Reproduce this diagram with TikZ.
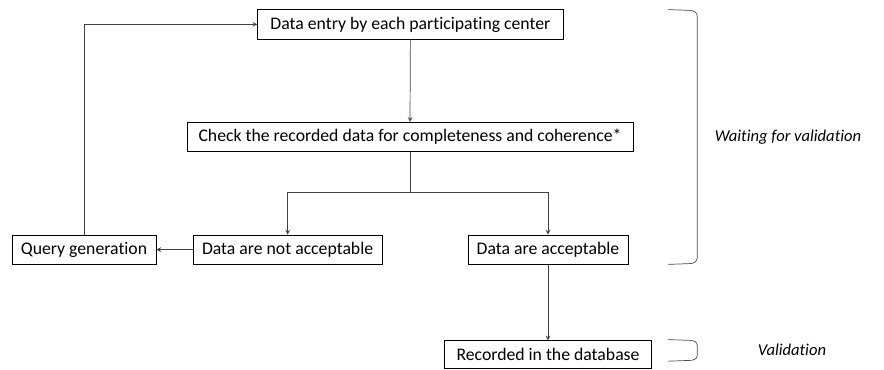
\documentclass[tikz,border=0pt]{standalone}
\usepackage{fontspec}
\setmainfont{Carlito}[Ligatures=NoCommon]
\begin{document}
\begin{tikzpicture}[x=1cm,y=1cm,>=stealth,
  box/.style={draw,line width=0.6pt,inner sep=0pt,minimum height=0.73cm,font=\fontsize{12.6}{14}\selectfont},
  link/.style={draw=black!75,line width=0.5pt}]
\useasboundingbox (0,0) rectangle (22.1,9.25);

\node[box,minimum width=7.63cm] (entry) at (10.26,8.64) {Data entry by each participating center};
\node[box,minimum width=11.15cm] (check) at (10.25,5.83) {Check the recorded data for completeness and coherence*};
\node[box,minimum width=3.6cm] (query) at (2.1,3.01) {Query generation};
\node[box,minimum width=4.73cm] (notacc) at (7.19,3.01) {Data are not acceptable};
\node[box,minimum width=4cm] (acc) at (13.7,3.01) {Data are acceptable};
\node[box,minimum width=5.18cm,minimum height=0.7cm] (rec) at (13.7,0.38) {Recorded in the database};

\coordinate (split) at (10.25,4.43);

\draw[link,->] (entry.south) -- (check.north);
\draw[link] (check.south) -- (split);
\draw[link,->] (split) -| (notacc.north);
\draw[link,->] (split) -| (acc.north);
\draw[link,->] (notacc.west) -- (query.east);
\draw[link,->] (query.north) |- (entry.west);
\draw[link,->] (acc.south) -- (rec.north);

% brackets on the right
\draw[black!70,line width=0.5pt] (16.7,9.01) -- (17.25,8.99) to[out=0,in=90] (17.43,8.85) -- (17.43,2.8) to[out=-90,in=0] (17.25,2.66) -- (16.7,2.64);
\draw[black!70,line width=0.5pt] (16.7,0.76) -- (17.25,0.74) to[out=0,in=90] (17.43,0.62) -- (17.43,0.36) to[out=-90,in=0] (17.25,0.24) -- (16.7,0.22);

\node[font=\fontsize{11.8}{13}\selectfont\itshape] (waiting) at (19.7,5.83) {Waiting for validation};
\node[font=\fontsize{11.8}{13}\selectfont\itshape] (valid) at (19.8,0.5) {Validation};
\end{tikzpicture}
\end{document}
